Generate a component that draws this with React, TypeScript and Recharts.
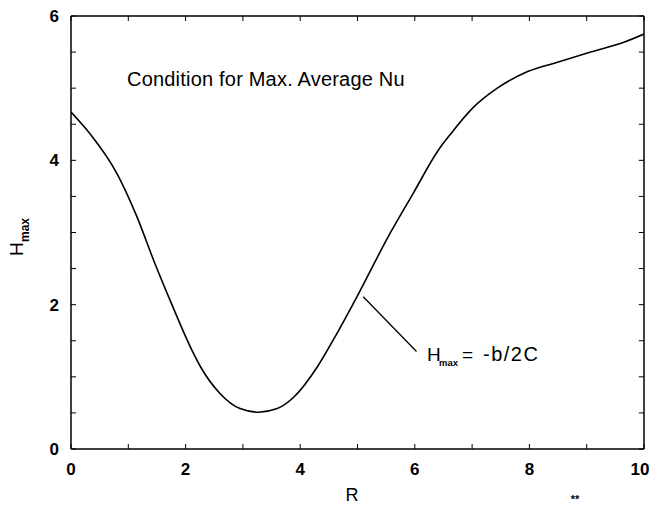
import React from "react";
import { LineChart, Line, XAxis, YAxis, ReferenceLine } from "recharts";

const rValues = [0, 0.33, 0.8, 1.15, 1.44, 1.73, 2.11, 2.26, 2.6, 2.95, 3.27, 3.6, 3.89, 4.3, 4.64, 4.93, 5.57, 5.97, 6.41, 6.63, 7.03, 7.44, 7.97, 8.49, 9.07, 9.66, 10.0];
const hMaxValues = [4.67, 4.37, 3.82, 3.22, 2.62, 2.06, 1.37, 1.14, 0.77, 0.56, 0.51, 0.56, 0.72, 1.14, 1.6, 2.02, 2.99, 3.54, 4.14, 4.37, 4.74, 5.0, 5.23, 5.36, 5.5, 5.64, 5.75];
const xTicks = [0, 1, 2, 3, 4, 5, 6, 7, 8, 9, 10];
const xLabelTicks = [0, 2, 4, 6, 8, 10];
const yTicks = [0, 0.5, 1, 1.5, 2, 2.5, 3, 3.5, 4, 4.5, 5, 5.5, 6];
const yLabelTicks = [0, 2, 4, 6];
const X_MAX = 10;
const Y_MAX = 6;
const leader = [
  { x: 5.1, y: 2.11 },
  { x: 6.03, y: 1.35 },
];

const data = rValues.map((r, i) => ({ r, h: hMaxValues[i] }));

const FONT = "'Liberation Sans', Arial, Helvetica, sans-serif";
const TICK = 5;

const BottomTick = (props: any) => {
  const { x, y, payload } = props;
  const v = payload.value;
  return (
    <g>
      <line x1={x} y1={y} x2={x} y2={y - TICK} stroke="#000" strokeWidth={1} />
      {xLabelTicks.includes(v) && (
        <text x={v === 10 ? x - 4 : x} y={y + 26} textAnchor="middle" fontFamily={FONT} fontSize={17} fontWeight="bold" fill="#000">
          {v}
        </text>
      )}
    </g>
  );
};

const LeftTick = (props: any) => {
  const { x, y, payload } = props;
  const v = payload.value;
  return (
    <g>
      <line x1={x} y1={y} x2={x + TICK} y2={y} stroke="#000" strokeWidth={1} />
      {yLabelTicks.includes(v) && (
        <text x={x - 12} y={y + 6} textAnchor="end" fontFamily={FONT} fontSize={17} fontWeight="bold" fill="#000">
          {v}
        </text>
      )}
    </g>
  );
};

export default function App() {
  return (
    <div style={{ position: "absolute", left: 0, top: 0, width: 649, height: 512, background: "#fff" }}>
      <LineChart width={649} height={512} data={data} margin={{ top: 16, right: 5, bottom: 0, left: 0 }}>
        <XAxis
          dataKey="r"
          type="number"
          domain={[0, X_MAX]}
          ticks={xTicks}
          interval={0}
          height={63}
          tickSize={0}
          tickMargin={0}
          tick={<BottomTick />}
          stroke="#000"
          strokeWidth={1.5}
          allowDataOverflow
        />
        <YAxis
          type="number"
          domain={[0, Y_MAX]}
          ticks={yTicks}
          interval={0}
          width={71}
          tickSize={0}
          tickMargin={0}
          tick={<LeftTick />}
          stroke="#000"
          strokeWidth={1.5}
          allowDataOverflow
        />
        <ReferenceLine y={Y_MAX} stroke="#000" strokeWidth={1.5} ifOverflow="visible" />
        <ReferenceLine x={X_MAX} stroke="#000" strokeWidth={1.5} ifOverflow="visible" />
        {xTicks.map((t) => (
          <ReferenceLine
            key={"tt" + t}
            segment={[
              { x: t, y: Y_MAX },
              { x: t, y: Y_MAX - 0.07 },
            ]}
            stroke="#000"
            strokeWidth={1}
            ifOverflow="visible"
          />
        ))}
        {yTicks.map((t) => (
          <ReferenceLine
            key={"rt" + t}
            segment={[
              { x: X_MAX, y: t },
              { x: X_MAX - 0.09, y: t },
            ]}
            stroke="#000"
            strokeWidth={1}
            ifOverflow="visible"
          />
        ))}
        <Line
          dataKey="h"
          type="monotone"
          stroke="#000"
          strokeWidth={1.6}
          dot={false}
          activeDot={false}
          isAnimationActive={false}
        />
        <ReferenceLine segment={leader} stroke="#000" strokeWidth={1.3} ifOverflow="visible" />
      </LineChart>
      <svg
        width={649}
        height={512}
        style={{ position: "absolute", left: 0, top: 0, pointerEvents: "none" }}
        fontFamily={FONT}
        fill="#000"
      >
        <text x={127} y={86} fontSize={20} letterSpacing={0.2}>
          Condition for Max. Average Nu
        </text>
        <text x={427} y={361} fontSize={19}>
          H
        </text>
        <text x={439} y={366} fontSize={9.5} fontWeight="bold">
          max
        </text>
        <text x={462} y={361} fontSize={19}>
          =
        </text>
        <text x={483} y={361} fontSize={20} letterSpacing={1.5}>
          -b/2C
        </text>
        <g transform="rotate(-90, 23, 256)">
          <text x={23} y={256} fontSize={19}>
            H
          </text>
          <text x={37} y={262} fontSize={12} fontWeight="bold">
            max
          </text>
        </g>
        <text x={352} y={501} fontSize={18} textAnchor="middle">
          R
        </text>
        <text x={575} y={503} fontSize={11} textAnchor="middle" fontWeight="bold">
          **
        </text>
      </svg>
    </div>
  );
}
